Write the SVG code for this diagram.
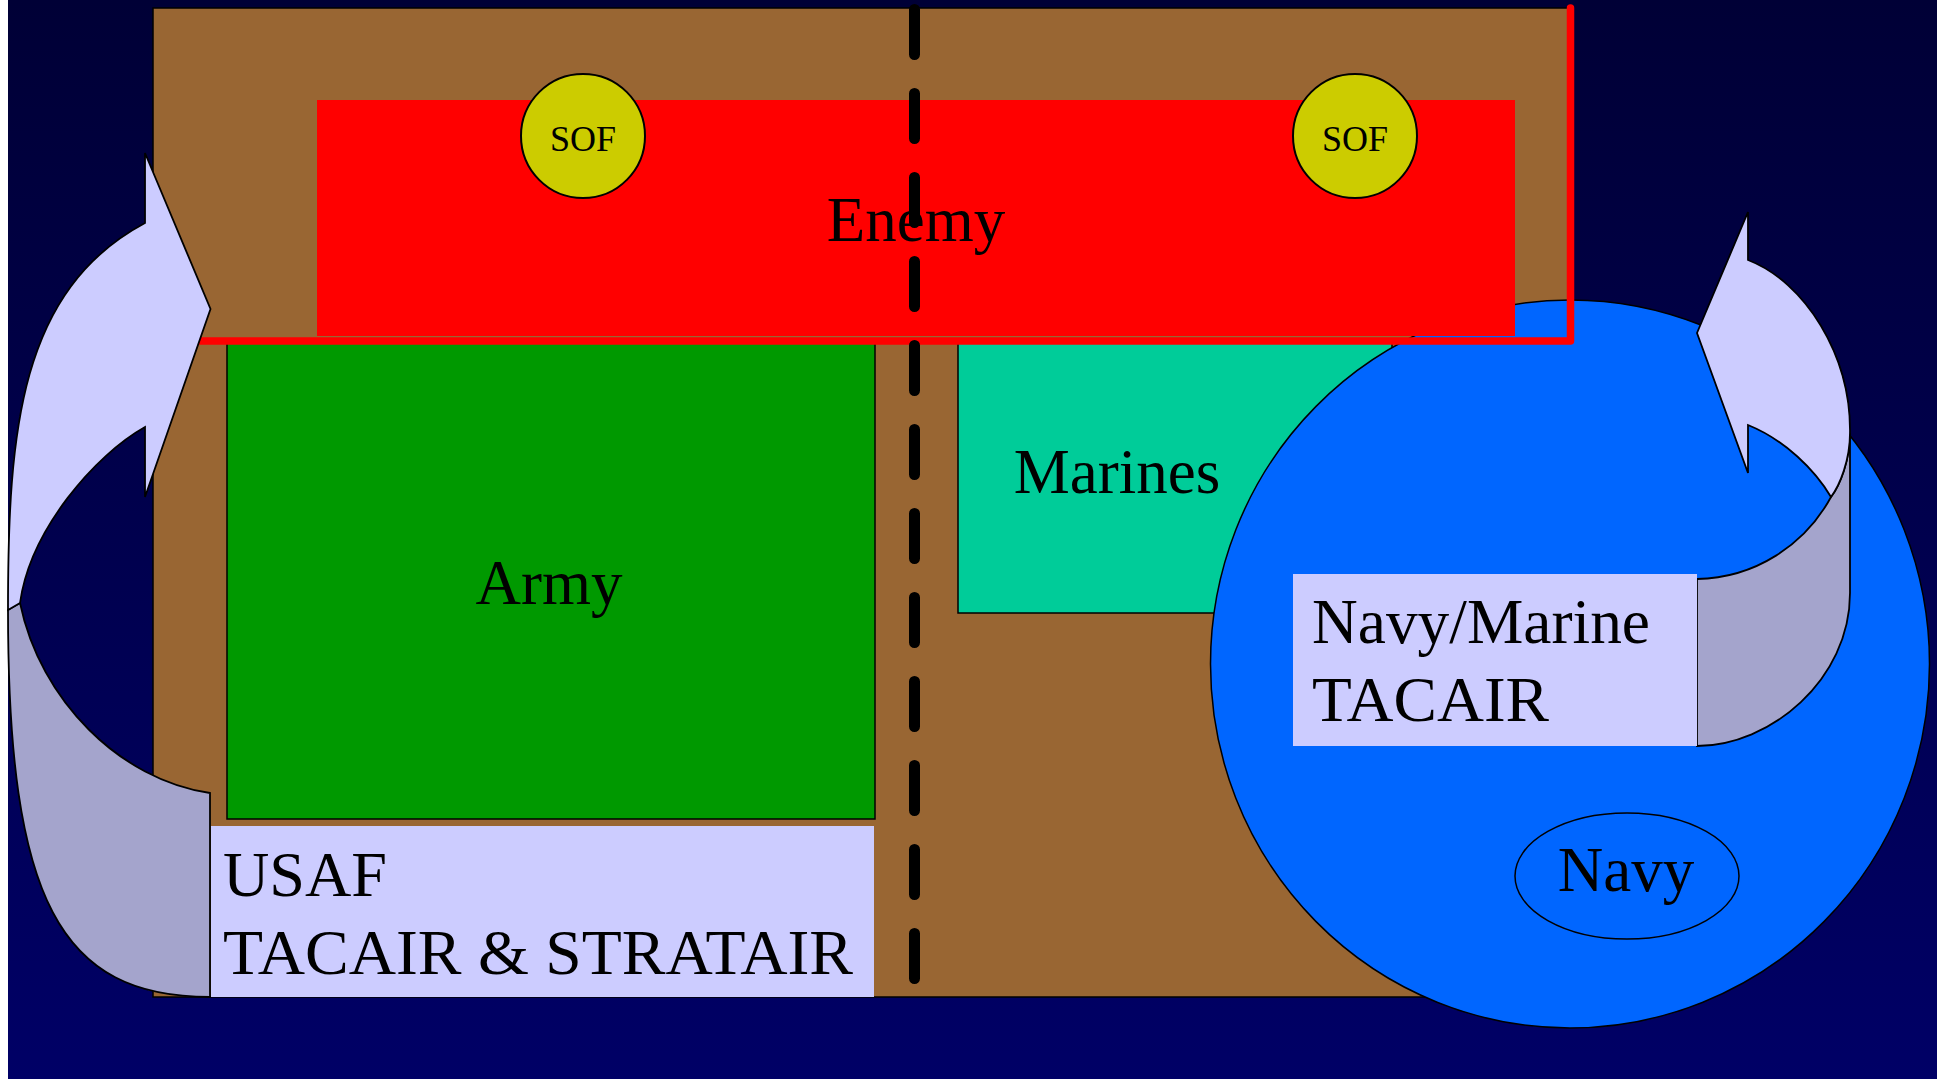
<svg xmlns="http://www.w3.org/2000/svg" width="1937" height="1079" viewBox="0 0 1937 1079">
<defs>
<linearGradient id="bg" x1="0" y1="0" x2="0" y2="1">
<stop offset="0" stop-color="#000036"/>
<stop offset="1" stop-color="#000066"/>
</linearGradient>
</defs>
<style>
.lbl{font-family:"Liberation Serif","Times New Roman",serif;font-size:63px;fill:#000}
.sof{font-family:"Liberation Serif","Times New Roman",serif;font-size:36px;fill:#000}
.edge{stroke:#000;stroke-width:1.5}
.front{fill:#CCCCFF;stroke:#000;stroke-width:1.8;stroke-linejoin:miter}
.back{fill:#A4A4CC;stroke:#000;stroke-width:1.8}
.box{fill:#CCCCFF}
</style>
<rect x="0" y="0" width="1937" height="1079" fill="url(#bg)"/>
<rect x="0" y="0" width="8" height="1079" fill="#FFFFFF"/>

<g id="theater">
<rect x="153" y="8" width="1418" height="989" fill="#996633" class="edge"/>
</g>

<g id="army">
<rect x="227" y="340" width="648" height="479" fill="#009900" class="edge"/>
<text class="lbl" x="549" y="604" text-anchor="middle">Army</text>
</g>

<g id="marines">
<rect x="958" y="340" width="434" height="273" fill="#00CC99" class="edge"/>
<text class="lbl" x="1117" y="493" text-anchor="middle">Marines</text>
</g>

<g id="navy-area">
<ellipse cx="1570" cy="664" rx="359.5" ry="364" fill="#0066FF" class="edge"/>
</g>

<g id="navy">
<ellipse cx="1627" cy="876" rx="112" ry="63" fill="#0066FF" class="edge"/>
<text class="lbl" x="1626" y="891" text-anchor="middle">Navy</text>
</g>

<g id="enemy">
<rect x="317" y="100" width="1198" height="236" fill="#FF0000"/>
<text class="lbl" x="916" y="241" text-anchor="middle">Enemy</text>
<polyline points="180,341 1570.5,341 1570.5,8" fill="none" stroke="#FF0000" stroke-width="7.5" stroke-linecap="round" stroke-linejoin="round"/>
</g>

<g id="sof-1">
<circle cx="583" cy="136" r="62" fill="#CCCC00" stroke="#000" stroke-width="2"/>
<text class="sof" x="583" y="151" text-anchor="middle">SOF</text>
</g>

<g id="sof-2">
<circle cx="1355" cy="136" r="62" fill="#CCCC00" stroke="#000" stroke-width="2"/>
<text class="sof" x="1355" y="151" text-anchor="middle">SOF</text>
</g>

<g id="connectors">
<line id="boundary" x1="914.5" y1="9.5" x2="914.5" y2="982" stroke="#000" stroke-width="11" stroke-linecap="round" stroke-dasharray="45 39"/>
<g id="usaf-arrow">
<path class="back" d="M 20,603 C 40,700 120,780 210,793 L 210,997 C 60,997 8,900 8,610 Z"/>
<path class="front" d="M 145,223 L 145,153 L 210.5,309 L 145,497 L 145,427 C 95,455 30,530 20,603 L 8,610 C 8,430 20,290 145,223 Z"/>
</g>
<g id="navy-arrow">
<path class="back" d="M 1697,579 C 1755,578 1805,545 1831,497 C 1840,485 1850,460 1850,433 L 1850,593 C 1850,680 1770,746 1697,746 Z"/>
<path class="front" d="M 1748,260 L 1748,212 L 1697,333 L 1748,473 L 1748,425 C 1785,440 1815,470 1831,497 C 1840,485 1850,460 1850,433 C 1851,355 1805,282 1748,260 Z"/>
</g>
</g>

<g id="usaf">
<rect class="box" x="211" y="826" width="663" height="171"/>
<text class="lbl" x="223" y="896" textLength="164" lengthAdjust="spacingAndGlyphs">USAF</text>
<text class="lbl" x="223" y="974" textLength="630" lengthAdjust="spacingAndGlyphs">TACAIR &amp; STRATAIR</text>
</g>

<g id="navy-marine-tacair">
<rect class="box" x="1293" y="574" width="404" height="172"/>
<text class="lbl" x="1312" y="643" textLength="338" lengthAdjust="spacingAndGlyphs">Navy/Marine</text>
<text class="lbl" x="1312" y="721" textLength="237" lengthAdjust="spacingAndGlyphs">TACAIR</text>
</g>
</svg>
